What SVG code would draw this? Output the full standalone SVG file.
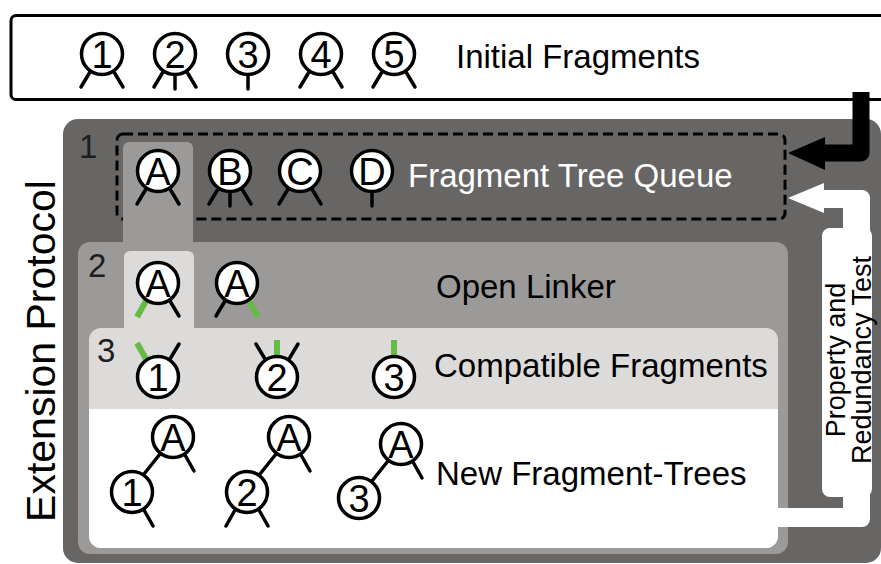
<svg xmlns="http://www.w3.org/2000/svg" width="881" height="564" viewBox="0 0 881 564">
<style>
text{font-family:"Liberation Sans",Arial,Helvetica,sans-serif}
.lbl{font-size:33px;fill:#000}
.num{font-size:33px;fill:#1e1e1e}
.node circle{fill:#fff;stroke:#000;stroke-width:3.5}
.node text{font-size:38px;text-anchor:middle;fill:#000}
.leg{stroke:#000;stroke-width:3.5;stroke-linecap:round;fill:none}
.g{stroke:#66bb46;stroke-width:6;stroke-linecap:butt;fill:none}
.dark{fill:#676665}
.mid{fill:#9b9a98}
.light{fill:#dcdbd9}
.white{fill:#fff}
</style>

<g id="container-initial">
<rect x="11" y="15.5" width="900" height="84" rx="5" fill="#fff" stroke="#000" stroke-width="3"/>
<text class="lbl" x="456" y="68">Initial Fragments</text>
</g>

<g id="container-protocol">
<rect class="dark" x="63" y="119" width="818" height="444" rx="15"/>
<text class="lbl" transform="translate(55,351) rotate(-90)" text-anchor="middle" style="font-size:41px">Extension Protocol</text>
</g>

<g id="queue-box">
<rect x="117" y="134" width="668" height="85" rx="6" fill="none" stroke="#000" stroke-width="3" stroke-dasharray="10 5"/>
<text class="num" x="79" y="158">1</text>
<text class="lbl" x="408" y="187" style="fill:#fff">Fragment Tree Queue</text>
</g>

<g id="linker-box">
<rect class="mid" x="78" y="242" width="710" height="312" rx="12"/>
<path class="mid" d="M123,250 V148 a6,6 0 0 1 6,-6 H187 a6,6 0 0 1 6,6 V250 Z"/>
<text class="num" x="88" y="277">2</text>
<text class="lbl" x="436" y="298">Open Linker</text>
</g>

<g id="compatible-box">
<rect class="light" x="89" y="328" width="689" height="220" rx="12"/>
<path class="light" d="M124,335 V257 a6,6 0 0 1 6,-6 H188 a6,6 0 0 1 6,6 V335 Z"/>
<path class="white" d="M89,409 H778 V536 a12,12 0 0 1 -12,12 H101 a12,12 0 0 1 -12,-12 Z"/>
<text class="num" x="97" y="362">3</text>
<text class="lbl" x="434" y="377">Compatible Fragments</text>
<text class="lbl" x="436" y="485">New Fragment-Trees</text>
</g>

<g id="test-box">
<rect class="white" x="822" y="228" width="50" height="269" rx="8"/>
<text transform="translate(845,360) rotate(-90)" text-anchor="middle" style="font-size:27px">
<tspan x="0" y="0">Property and</tspan><tspan x="0" y="26">Redundancy Test</tspan>
</text>
</g>

<g id="connectors">
<path d="M861,92 V153 H824" fill="none" stroke="#000" stroke-width="17" stroke-linejoin="round"/>
<polygon points="788,153 825,137 825,170" fill="#000"/>
<path class="white" d="M823,190 H862 a8,8 0 0 1 8,8 V232 H843 V208 H823 Z"/>
<polygon class="white" points="788,198 824,183 824,213"/>
<path class="white" d="M843,494 V508 H776 V527 H862 a8,8 0 0 0 8,-8 V494 Z"/>
</g>

<!-- initial fragments -->
<g id="f1" class="node" transform="translate(102,54)"><line class="leg" x1="-12" y1="18" x2="-21" y2="33"/><line class="leg" x1="12" y1="18" x2="21" y2="33"/><circle r="20.5"/><text y="14">1</text></g>
<g id="f2" class="node" transform="translate(175,54)"><line class="leg" x1="-12" y1="18" x2="-21" y2="33"/><line class="leg" x1="0" y1="21" x2="0" y2="35"/><line class="leg" x1="12" y1="18" x2="21" y2="33"/><circle r="20.5"/><text y="14">2</text></g>
<g id="f3" class="node" transform="translate(248,54)"><line class="leg" x1="0" y1="21" x2="0" y2="35"/><circle r="20.5"/><text y="14">3</text></g>
<g id="f4" class="node" transform="translate(321,54)"><line class="leg" x1="-12" y1="18" x2="-21" y2="33"/><line class="leg" x1="12" y1="18" x2="21" y2="33"/><circle r="20.5"/><text y="14">4</text></g>
<g id="f5" class="node" transform="translate(394,54)"><line class="leg" x1="-12" y1="18" x2="-21" y2="33"/><line class="leg" x1="12" y1="18" x2="21" y2="33"/><circle r="20.5"/><text y="14">5</text></g>

<!-- queue -->
<g id="qA" class="node" transform="translate(158,171)"><line class="leg" x1="-12" y1="18" x2="-21" y2="33"/><line class="leg" x1="12" y1="18" x2="21" y2="33"/><circle r="20.5"/><text y="14">A</text></g>
<g id="qB" class="node" transform="translate(230,171)"><line class="leg" x1="-12" y1="18" x2="-21" y2="33"/><line class="leg" x1="0" y1="21" x2="0" y2="35"/><line class="leg" x1="12" y1="18" x2="21" y2="33"/><circle r="20.5"/><text y="14">B</text></g>
<g id="qC" class="node" transform="translate(300,171)"><line class="leg" x1="-12" y1="18" x2="-21" y2="33"/><line class="leg" x1="12" y1="18" x2="21" y2="33"/><circle r="20.5"/><text y="14">C</text></g>
<g id="qD" class="node" transform="translate(372,171)"><line class="leg" x1="0" y1="21" x2="0" y2="35"/><circle r="20.5"/><text y="14">D</text></g>

<!-- open linker -->
<g id="lA1" class="node" transform="translate(158,283)"><line class="g" x1="-12" y1="18" x2="-21" y2="34"/><line class="leg" x1="12" y1="18" x2="21" y2="33"/><circle r="20.5"/><text y="14">A</text></g>
<g id="lA2" class="node" transform="translate(237,283)"><line class="leg" x1="-12" y1="18" x2="-21" y2="33"/><line class="g" x1="12" y1="18" x2="21" y2="34"/><circle r="20.5"/><text y="14">A</text></g>

<!-- compatible fragments -->
<g id="c1" class="node" transform="translate(158,377)"><line class="g" x1="-12" y1="-18" x2="-21" y2="-34"/><line class="leg" x1="12" y1="-18" x2="21" y2="-33"/><circle r="20.5"/><text y="14">1</text></g>
<g id="c2" class="node" transform="translate(277,377)"><line class="leg" x1="-12" y1="-18" x2="-21" y2="-33"/><line class="g" x1="0" y1="-21" x2="0" y2="-37"/><line class="leg" x1="12" y1="-18" x2="21" y2="-33"/><circle r="20.5"/><text y="14">2</text></g>
<g id="c3" class="node" transform="translate(394,377)"><line class="g" x1="0" y1="-21" x2="0" y2="-37"/><circle r="20.5"/><text y="14">3</text></g>

<!-- new fragment trees -->
<g id="t1">
<line class="leg" x1="160" y1="454" x2="144" y2="474"/>
<g class="node" transform="translate(173,437)"><line class="leg" x1="12" y1="18" x2="21" y2="34"/><circle r="20.5"/><text y="14">A</text></g>
<g class="node" transform="translate(132,492)"><line class="leg" x1="12" y1="18" x2="21" y2="34"/><circle r="20.5"/><text y="14">1</text></g>
</g>
<g id="t2">
<line class="leg" x1="276" y1="454" x2="260" y2="474"/>
<g class="node" transform="translate(289,437)"><line class="leg" x1="12" y1="18" x2="21" y2="34"/><circle r="20.5"/><text y="14">A</text></g>
<g class="node" transform="translate(247,492)"><line class="leg" x1="-12" y1="18" x2="-21" y2="34"/><line class="leg" x1="12" y1="18" x2="21" y2="34"/><circle r="20.5"/><text y="14">2</text></g>
</g>
<g id="t3">
<line class="leg" x1="388" y1="461" x2="372" y2="481"/>
<g class="node" transform="translate(401,444)"><line class="leg" x1="12" y1="18" x2="21" y2="34"/><circle r="20.5"/><text y="14">A</text></g>
<g class="node" transform="translate(359,498)"><circle r="20.5"/><text y="14">3</text></g>
</g>
</svg>
